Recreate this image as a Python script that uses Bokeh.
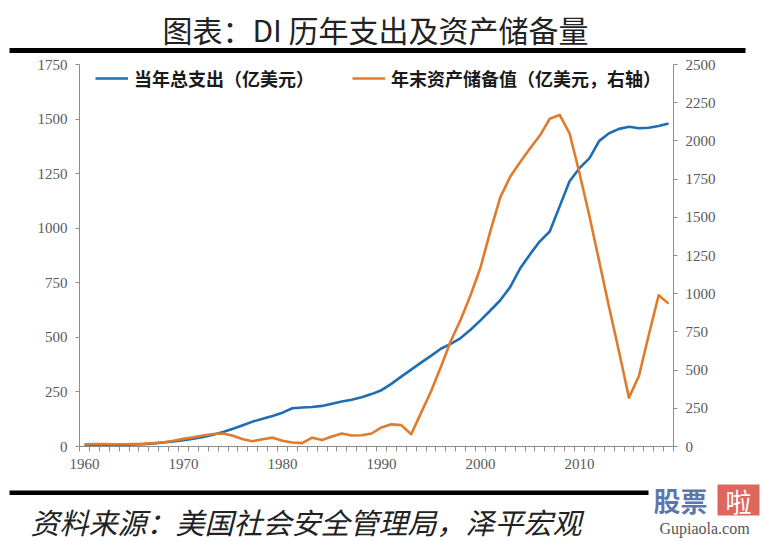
from bokeh.plotting import figure
from bokeh.models import Range1d, LinearAxis, FixedTicker, Legend, LegendItem
from bokeh.layouts import column
from bokeh.core.properties import value
from bokeh.embed import file_html
from bokeh.resources import INLINE
import numpy as np

# ---------------- data ----------------
years = list(range(1960, 2020))
expenditure = [3, 4, 5, 6, 7, 9, 11, 14, 18, 23,
               29, 36, 44, 54, 66, 81, 97, 114, 127, 140,
               155, 175, 179, 181, 186, 196, 206, 214, 226, 240,
               258, 287, 320, 352, 384, 415, 448, 470, 497, 535,
               578, 623, 670, 730, 815, 880, 940, 985, 1100, 1215,
               1275, 1320, 1400, 1435, 1455, 1465, 1458, 1460, 1468, 1480]
reserves = [15, 16, 16, 15, 15, 16, 18, 22, 28, 38,
            50, 60, 72, 82, 85, 70, 48, 35, 48, 58,
            38, 26, 22, 58, 42, 65, 85, 72, 74, 85,
            125, 145, 140, 80, 220, 360, 520, 690, 830, 990,
            1170, 1410, 1630, 1765, 1860, 1950, 2035, 2145, 2170, 2050,
            1790, 1510, 1210, 910, 620, 320, 460, 730, 990, 935]
left_ticks = [0, 250, 500, 750, 1000, 1250, 1500, 1750]
right_ticks = [0, 250, 500, 750, 1000, 1250, 1500, 1750, 2000, 2250, 2500]
label_years = [1960, 1970, 1980, 1990, 2000, 2010]
title_text = "图表：DI 历年支出及资产储备量"
legend_labels = ["当年总支出（亿美元）", "年末资产储备值（亿美元，右轴）"]
source_text = "资料来源：美国社会安全管理局，泽平宏观"

BLUE = "#1F6DB2"
ORANGE = "#E07B2C"
AXIS = "#8C8C8C"
TICKTXT = "#595959"
W = 760
CJK = value("Noto Sans CJK SC")


def bare(height):
    f = figure(width=W, height=height, output_backend="svg", toolbar_location=None,
               x_range=Range1d(0, W), y_range=Range1d(height, 0),
               x_axis_type=None, y_axis_type=None, min_border=0)
    f.outline_line_color = None
    f.xgrid.visible = False
    f.ygrid.visible = False
    f.frame_align = False
    return f


# ---------------- header ----------------
h = bare(56)
h.text(x=[375], y=[28], text=[title_text], text_font=CJK, text_font_size="30px",
       text_align="center", text_baseline="middle", text_color="#222222")
h.quad(left=[9], right=[745], top=[47.5], bottom=[52.5], fill_color="black",
       line_color=None)

# ---------------- main chart ----------------
x = np.array(years) + 0.5
p = figure(width=W, height=424, output_backend="svg", toolbar_location=None,
           x_range=Range1d(years[0], years[-1] + 1), y_range=Range1d(0, 1750),
           min_border_left=79, min_border_right=87, min_border_top=8,
           min_border_bottom=34)
p.frame_align = False
p.extra_y_ranges = {"right": Range1d(0, 2500)}
p.outline_line_color = None
p.xgrid.visible = False
p.ygrid.visible = False

xa = p.xaxis[0]
xa.ticker = FixedTicker(ticks=[yv + 0.5 for yv in label_years],
                        minor_ticks=list(range(years[0], years[-1] + 2)))
xa.major_label_overrides = {yv + 0.5: str(yv) for yv in label_years}
xa.major_tick_out = 0
xa.major_tick_in = 0
xa.minor_tick_out = 5
xa.minor_tick_in = 0
xa.axis_line_color = AXIS
xa.minor_tick_line_color = AXIS
xa.major_label_text_font = "Liberation Serif"
xa.major_label_text_font_size = "15px"
xa.major_label_text_color = TICKTXT
xa.major_label_standoff = 7

ya = p.yaxis[0]
ya.ticker = FixedTicker(ticks=left_ticks)
ya.major_tick_out = 4
ya.major_tick_in = 0
ya.minor_tick_out = 0
ya.minor_tick_in = 0
ya.axis_line_color = AXIS
ya.major_tick_line_color = AXIS
ya.major_label_text_font = "Liberation Serif"
ya.major_label_text_font_size = "15px"
ya.major_label_text_color = TICKTXT
ya.major_label_standoff = 8

ra = LinearAxis(y_range_name="right", ticker=FixedTicker(ticks=right_ticks))
ra.major_tick_out = 4
ra.major_tick_in = 0
ra.minor_tick_out = 0
ra.minor_tick_in = 0
ra.axis_line_color = AXIS
ra.major_tick_line_color = AXIS
ra.major_label_text_font = "Liberation Serif"
ra.major_label_text_font_size = "15px"
ra.major_label_text_color = TICKTXT
ra.major_label_standoff = 8
p.add_layout(ra, "right")

r_exp = p.line(x, expenditure, line_color=BLUE, line_width=2.6, line_join="round")
r_res = p.line(x, reserves, line_color=ORANGE, line_width=2.6, line_join="round",
               y_range_name="right")

legend = Legend(items=[LegendItem(label=legend_labels[0], renderers=[r_exp]),
                       LegendItem(label=legend_labels[1], renderers=[r_res])],
                orientation="horizontal", location=(16, 355),
                border_line_color=None, background_fill_alpha=0,
                margin=0, padding=0, spacing=38, glyph_width=33, glyph_height=22,
                label_standoff=6, label_text_font="Noto Sans CJK SC",
                label_text_font_style="bold",
                label_text_font_size="18px", label_text_color="#1a1a1a")
p.add_layout(legend, "center")

# ---------------- footer ----------------
f = bare(60)
f.quad(left=[9], right=[648], top=[10], bottom=[14.5], fill_color="black",
       line_color=None)
f.text(x=[30], y=[40], text=[source_text], text_font=CJK, text_font_size="29px",
       text_font_style="italic", text_align="left", text_baseline="middle",
       text_color="#222222")
f.text(x=[680], y=[20], text=["股票"], text_font=CJK, text_font_size="27px",
       text_font_style="bold", text_align="center", text_baseline="middle",
       text_color="#3F5F99", text_alpha=0.85)
f.quad(left=[717], right=[759], top=[4], bottom=[35], fill_color="#D9574A",
       fill_alpha=0.9, line_color=None)
f.text(x=[738], y=[20], text=["啦"], text_font=CJK, text_font_size="26px",
       text_align="center", text_baseline="middle", text_color="white")
f.text(x=[704], y=[48], text=["Gupiaola.com"], text_font=value("Liberation Serif"),
       text_font_size="16px", text_align="center", text_baseline="middle",
       text_color="#555555")

layout = column(h, p, f, spacing=0)
open("out.html", "w").write(file_html(layout, INLINE))
